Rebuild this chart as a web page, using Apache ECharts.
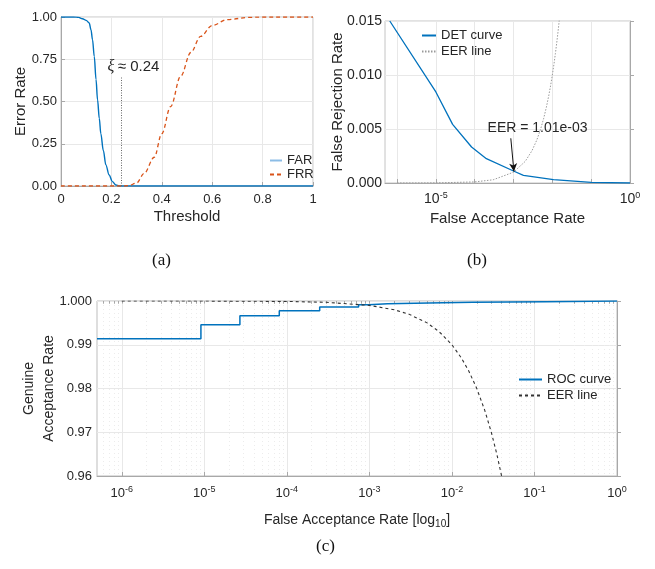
<!DOCTYPE html>
<html><head><meta charset="utf-8">
<script src="https://cdn.jsdelivr.net/npm/echarts@6/dist/echarts.min.js"></script>
<style>html,body{margin:0;padding:0;background:#fff}#c{width:655px;height:569px}</style>
</head><body><div id="c"></div>
<script>
// ---------- data ----------
// (a) error rates vs threshold
const thrFAR = [0, 0.05, 0.07, 0.085, 0.1, 0.112, 0.119, 0.125, 0.132, 0.139, 0.145, 0.152, 0.158, 0.168, 0.178, 0.191, 0.204, 0.218, 0.23, 0.3, 0.5, 0.7, 1];
const farVals = [1, 1, 0.998, 0.99, 0.98, 0.965, 0.925, 0.866, 0.767, 0.63, 0.51, 0.40, 0.31, 0.21, 0.125, 0.065, 0.026, 0.006, 0, 0, 0, 0, 0];
const thrFRR = [0, 0.2, 0.25, 0.27, 0.3, 0.33, 0.37, 0.4, 0.435, 0.475, 0.515, 0.554, 0.6, 0.66, 0.75, 0.8, 0.9, 1];
const frrVals = [0, 0, 0, 0.003, 0.018, 0.075, 0.17, 0.31, 0.47, 0.65, 0.79, 0.885, 0.95, 0.985, 0.998, 1, 1, 1];
const xiThreshold = 0.24;
// (b) DET curve
const detFAR = [6.5e-7, 1e-5, 2.7e-5, 8.3e-5, 2.0e-4, 1e-3, 1.8e-3, 1.07e-2, 0.1, 1];
const detFRR = [0.015, 0.00843, 0.00543, 0.00333, 0.00225, 0.00111, 0.00071, 0.00031, 0.00006, 0];
const eerbFAR = [1e-6, 1e-5, 1e-4, 3e-4, 1e-3, 2e-3, 3e-3, 4e-3, 5e-3, 6e-3, 7e-3, 8e-3, 9e-3, 0.01, 0.011, 0.012, 0.013, 0.014, 0.015, 0.016];
const eerbFRR = [1e-6, 1e-5, 1e-4, 3e-4, 1e-3, 2e-3, 3e-3, 4e-3, 5e-3, 6e-3, 7e-3, 8e-3, 9e-3, 0.01, 0.011, 0.012, 0.013, 0.014, 0.015, 0.016];
const eerPointFAR = 1e-3, eerValue = 1.01e-3;
// (c) ROC curve
const rocFAR = [5.01e-7, 9.1e-6, 2.7e-5, 8.1e-5, 2.5e-4, 7.4e-4, 9.8e-4, 1.66e-3, 5.2e-3, 1.8e-2, 0.135, 1];
const rocGAR = [0.99138, 0.99459, 0.99665, 0.9978, 0.99863, 0.99917, 0.99935, 0.99954, 0.99972, 0.99985, 1.0, 1.0];
const eercFAR = [1e-6, 1e-5, 1e-4, 3e-4, 1e-3, 2e-3, 3e-3, 5e-3, 7e-3, 0.01, 0.013, 0.016, 0.02, 0.025, 0.03, 0.035, 0.04, 0.042];
const eercGAR = [0.999999, 0.99999, 0.9999, 0.9997, 0.999, 0.998, 0.997, 0.995, 0.993, 0.99, 0.987, 0.984, 0.98, 0.975, 0.97, 0.965, 0.96, 0.958];
// ticks
const decadeTicks = [-6, -5, -4, -3, -2, -1, 0];
const bLabelTicks = [-5, 0];
const cLabelTicks = [-6, -5, -4, -3, -2, -1, 0];

// ---------- helpers ----------
const FF = 'Liberation Sans, Arial, Helvetica, sans-serif';
const TXT = '#262626';
const GRID = '#e8e8e8';
const AXL = '#a8a8a8';
const lg = v => Math.log10(v);
const zip = (a, b, f) => a.map((v, i) => [f ? f(v) : v, b[i]]);
const minorTicks = [];
for (let n = -7; n <= -1; n++) for (let k = 2; k <= 9; k++) {
  const t = Math.log10(k) + n; if (t > -6.3 && t < 0) minorTicks.push(t);
}
const logLabel = (size, supSize, pad) => ({
  formatter: v => '{b|10}{s|' + Math.round(v) + '}',
  rich: {
    b: { fontSize: size, color: TXT, fontFamily: FF },
    s: { fontSize: supSize, color: TXT, fontFamily: FF, padding: [0, 0, pad, 0] }
  }
});
const axisLine = { show: true, lineStyle: { color: AXL, width: 1 } };
const tickIn = { show: true, inside: true, length: 4, lineStyle: { color: AXL } };
const split = { show: true, lineStyle: { color: GRID, width: 1 } };
const legendBase = { orient: 'vertical', padding: 0, itemHeight: 12, itemStyle: { opacity: 0 }, textStyle: { fontSize: 13, color: TXT } };

const option = {
  animation: false,
  textStyle: { fontFamily: FF, color: TXT },
  grid: [
    { left: 61, top: 17, width: 252, height: 169, show: true, borderColor: '#c4c4c4', borderWidth: 1 },
    { left: 385, top: 21, width: 245, height: 162, show: true, borderColor: '#c4c4c4', borderWidth: 1 },
    { left: 97, top: 301, width: 520, height: 175, show: true, borderColor: '#bdbdbd', borderWidth: 1 }
  ],
  xAxis: [
    { gridIndex: 0, type: 'value', min: 0, max: 1, interval: 0.2,
      axisLine, axisTick: tickIn, splitLine: split,
      axisLabel: { fontSize: 13, color: TXT, margin: 7, formatter: v => (v === 0 ? '0' : v === 1 ? '1' : v.toFixed(1)) },
      name: 'Threshold', nameLocation: 'middle', nameGap: 23, nameMoveOverlap: false, nameTextStyle: { fontSize: 15, color: TXT } },
    { gridIndex: 1, type: 'value', min: -6.31, max: 0,
      axisLine, axisTick: Object.assign({ customValues: decadeTicks }, tickIn), splitLine: split,
      axisLabel: Object.assign({ customValues: bLabelTicks, margin: 8 }, logLabel(14, 9, 8)),
      name: 'False Acceptance Rate', nameLocation: 'middle', nameGap: 28, nameMoveOverlap: false, nameTextStyle: { fontSize: 15, color: TXT } },
    { gridIndex: 2, type: 'value', min: -6.3, max: 0,
      axisLine, axisTick: Object.assign({ customValues: decadeTicks }, tickIn), splitLine: split,
      axisLabel: Object.assign({ customValues: cLabelTicks, margin: 9 }, logLabel(13, 9, 8)),
      name: '{t|False Acceptance Rate [log}{u|10}{t|]}', nameLocation: 'middle', nameGap: 35, nameMoveOverlap: false,
      nameTextStyle: { rich: { t: { fontSize: 14, color: TXT, fontFamily: FF }, u: { fontSize: 10, color: TXT, fontFamily: FF, padding: [8, 0, 0, 0] } } } },
    { gridIndex: 2, type: 'value', min: -6.3, max: 0,
      axisLine: { show: false }, axisLabel: { show: false },
      axisTick: { show: true, inside: true, length: 2.5, customValues: minorTicks, lineStyle: { color: AXL } },
      splitLine: { show: true, lineStyle: { color: '#ececec', type: [1, 3], width: 1 } } },
    { gridIndex: 2, type: 'value', position: 'top', min: -6.3, max: 0,
      axisLine: { show: false }, axisLabel: { show: false }, splitLine: { show: false },
      axisTick: { show: true, inside: true, length: 2.5, customValues: minorTicks.concat(decadeTicks), lineStyle: { color: AXL } } }
  ],
  yAxis: [
    { gridIndex: 0, type: 'value', min: 0, max: 1, interval: 0.25,
      axisLine, axisTick: tickIn, splitLine: split,
      axisLabel: { fontSize: 13, color: TXT, margin: 4, formatter: v => v.toFixed(2) },
      name: 'Error Rate', nameLocation: 'middle', nameGap: 33, nameMoveOverlap: false, nameTextStyle: { fontSize: 15, color: TXT } },
    { gridIndex: 1, type: 'value', min: 0, max: 0.015, interval: 0.005,
      axisLine, axisTick: tickIn, splitLine: split,
      axisLabel: { fontSize: 14, color: TXT, margin: 3, formatter: v => v.toFixed(3) },
      name: 'False Rejection Rate', nameLocation: 'middle', nameGap: 40, nameMoveOverlap: false, nameTextStyle: { fontSize: 15, color: TXT } },
    { gridIndex: 2, type: 'value', min: 0.96, max: 1, interval: 0.01,
      axisLine, axisTick: tickIn, splitLine: split,
      axisLabel: { fontSize: 13, color: TXT, margin: 5, formatter: v => (Math.abs(v - 1) < 1e-9 ? '1.000' : v.toFixed(2)) },
      name: 'Genuine\nAcceptance Rate', nameLocation: 'middle', nameGap: 38, nameMoveOverlap: false, nameTextStyle: { fontSize: 14, color: TXT, lineHeight: 20 } }
  ],
  legend: [
    Object.assign({}, legendBase, { left: 269, top: 154, itemWidth: 12, itemGap: 1,
      data: [{ name: 'FAR', lineStyle: { color: '#8cbde6' } }, 'FRR'] }),
    Object.assign({}, legendBase, { left: 421, top: 29, itemWidth: 14, itemGap: 3,
      data: ['DET curve', 'EER line'] }),
    Object.assign({}, legendBase, { left: 518, top: 373, itemWidth: 23, itemGap: 3,
      data: ['ROC curve', 'EER line '] })
  ],
  series: [
    { name: 'FAR', type: 'line', xAxisIndex: 0, yAxisIndex: 0, data: zip(thrFAR, farVals),
      smooth: 0.35, smoothMonotone: 'x', symbol: 'none', lineStyle: { color: '#0072BD', width: 1.4 }, itemStyle: { color: '#0072BD' },
      markPoint: { silent: true, symbol: 'circle', symbolSize: 0,
        data: [{ coord: [xiThreshold, 0.704] }],
        label: { show: true, position: 'inside', offset: [12, 0], formatter: '{i|ξ} {t|≈ 0.24}',
          rich: { i: { fontSize: 16, fontStyle: 'italic', fontFamily: 'Liberation Serif, serif', color: TXT }, t: { fontSize: 15, color: TXT, fontFamily: FF } } } } },
    { name: 'FRR', type: 'line', xAxisIndex: 0, yAxisIndex: 0, data: zip(thrFRR, frrVals),
      smooth: 0.35, smoothMonotone: 'x', symbol: 'none', lineStyle: { color: '#D95319', width: 1.3, type: [4, 3] }, itemStyle: { color: '#D95319' },
      markLine: { silent: true, symbol: 'none', label: { show: false },
        lineStyle: { color: '#666', type: [1, 1.5], width: 1 },
        data: [[{ coord: [xiThreshold, 0] }, { coord: [xiThreshold, 0.645] }]] } },
    { name: 'DET curve', type: 'line', xAxisIndex: 1, yAxisIndex: 1, data: zip(detFAR, detFRR, lg),
      symbol: 'none', lineStyle: { color: '#0072BD', width: 1.3 }, itemStyle: { color: '#0072BD' },
      markLine: { silent: true, symbol: ['none', 'arrow'], symbolSize: [6, 8], label: { show: false },
        lineStyle: { color: '#111', type: 'solid', width: 1 },
        data: [[{ coord: [lg(eerPointFAR) - 0.07, 0.00414] }, { coord: [lg(eerPointFAR) + 0.01, eerValue + 0.00006] }]] },
      markPoint: { silent: true, symbol: 'circle', symbolSize: 0,
        data: [{ coord: [lg(eerPointFAR) + 0.62, 0.00506] }],
        label: { show: true, position: 'inside', fontSize: 14, color: TXT, formatter: 'EER = ' + eerValue.toExponential(2).replace('e-3', 'e-03') } } },
    { name: 'EER line', type: 'line', xAxisIndex: 1, yAxisIndex: 1, data: zip(eerbFAR, eerbFRR, lg),
      symbol: 'none', lineStyle: { color: '#9a9a9a', width: 1, type: [1.5, 1.5] }, itemStyle: { color: '#9a9a9a' } },
    { name: 'ROC curve', type: 'line', xAxisIndex: 2, yAxisIndex: 2, data: zip(rocFAR, rocGAR, lg), step: 'end',
      symbol: 'none', lineStyle: { color: '#0072BD', width: 1.5 }, itemStyle: { color: '#0072BD' } },
    { name: 'EER line ', type: 'line', xAxisIndex: 2, yAxisIndex: 2, data: zip(eercFAR, eercGAR, lg),
      symbol: 'none', lineStyle: { color: '#333', width: 1.1, type: [3, 3] }, itemStyle: { color: '#333' } }
  ],
  graphic: [
    { type: 'text', left: 152, top: 252, style: { text: '(a)', font: '17px "Liberation Serif", serif', fill: '#111' } },
    { type: 'text', left: 467, top: 252, style: { text: '(b)', font: '17px "Liberation Serif", serif', fill: '#111' } },
    { type: 'text', left: 316, top: 538, style: { text: '(c)', font: '17px "Liberation Serif", serif', fill: '#111' } }
  ]
};
const chart = echarts.init(document.getElementById('c'), null, { renderer: 'canvas' });
chart.setOption(option);
</script></body></html>
